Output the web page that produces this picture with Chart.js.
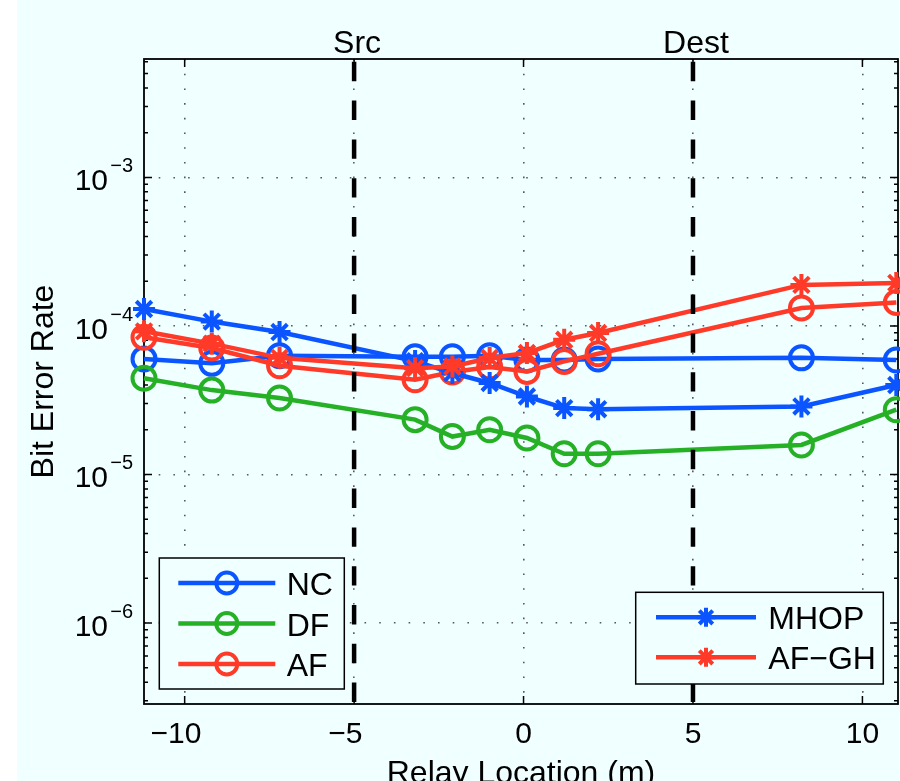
<!DOCTYPE html>
<html>
<head>
<meta charset="utf-8">
<title>Bit Error Rate vs Relay Location</title>
<script src="https://cdn.jsdelivr.net/npm/chart.js@4.4.1/dist/chart.umd.min.js"></script>
<style>
  html, body { margin: 0; padding: 0; background: #f0ffff; overflow: hidden; }
  #wrap {
    position: relative; width: 900px; height: 781px;
    background: linear-gradient(to right, #ffffff 0, #ffffff 17px, #f0ffff 17px);
  }
  #berChart { display: block; }
</style>
</head>
<body>
<div id="wrap"><canvas id="berChart" width="900" height="781"></canvas></div>
<script>
// relay positions (m) and BER per scheme
const relayPos = [-11.2, -9.2, -7.2, -3.2, -2.1, -1.0, 0.1, 1.2, 2.2, 8.2, 11.0];
const berNC   = [6.0e-5, 5.6e-5, 6.3e-5, 6.2e-5, 6.2e-5, 6.3e-5, 5.9e-5, 5.9e-5, 6.0e-5, 6.1e-5, 5.9e-5];
const berDF   = [4.45e-5, 3.7e-5, 3.27e-5, 2.34e-5, 1.8e-5, 2.0e-5, 1.76e-5, 1.38e-5, 1.38e-5, 1.58e-5, 2.73e-5];
const berAF   = [8.4e-5, 7.1e-5, 5.4e-5, 4.34e-5, 4.9e-5, 5.3e-5, 4.94e-5, 5.77e-5, 6.5e-5, 1.32e-4, 1.44e-4];
const berMHOP = [1.30e-4, 1.07e-4, 9.1e-5, 5.8e-5, 4.82e-5, 4.13e-5, 3.35e-5, 2.8e-5, 2.75e-5, 2.87e-5, 4.0e-5];
const berAFGH = [9.2e-5, 7.6e-5, 6.1e-5, 5.2e-5, 5.33e-5, 6.08e-5, 6.57e-5, 8.07e-5, 8.96e-5, 1.89e-4, 1.95e-4];

// node markers
const nodePos = [-5, 5];
const nodeNames = ['Src', 'Dest'];

const xTicks = [-10, -5, 0, 5, 10];
const xMin = -11.2, xMax = 11.05;
const yMin = 2.85e-7, yMax = 6.27e-3;

const BLUE = 'rgb(10,85,255)';
const GREEN = 'rgb(38,176,38)';
const RED = 'rgb(255,58,40)';
const BG = '#f0ffff';
const FONT = '"Liberation Sans", Arial, Helvetica, sans-serif';

const pts = arr => relayPos.map((x, i) => ({ x: x, y: arr[i] }));
const isDecade = v => Math.abs(Math.log10(v) - Math.round(Math.log10(v))) < 1e-9;

function series(label, arr, color, style, order) {
    return {
        label: label,
        data: pts(arr),
        borderColor: color,
        borderWidth: 4.5,
        pointStyle: style,
        pointRadius: style === 'circle' ? 11.5 : 11,
        pointBorderWidth: 4,
        pointBorderColor: color,
        pointBackgroundColor: 'rgba(0,0,0,0)',
        tension: 0,
        clip: false,
        order: order
    };
}

const datasets = [
    series('NC', berNC, BLUE, 'circle', 5),
    series('DF', berDF, GREEN, 'circle', 4),
    series('AF', berAF, RED, 'circle', 3),
    series('MHOP', berMHOP, BLUE, 'star', 2),
    series('AF\u2212GH', berAFGH, RED, 'star', 1)
];

// dashed vertical lines at source / destination
nodePos.forEach(p => {
    datasets.push({
        label: '',
        data: [{ x: p, y: yMax }, { x: p, y: yMin }],
        borderColor: '#000',
        borderWidth: 4.5,
        borderDash: [19.4, 19.4],
        borderDashOffset: 36,
        pointRadius: 0,
        clip: false,
        order: 0
    });
});

function drawMarker(ctx, style, x, y, r) {
    ctx.beginPath();
    if (style === 'circle') {
        ctx.arc(x, y, r, 0, Math.PI * 2);
    } else {
        const d = r * Math.SQRT1_2;
        ctx.moveTo(x - r, y); ctx.lineTo(x + r, y);
        ctx.moveTo(x, y - r); ctx.lineTo(x, y + r);
        ctx.moveTo(x - d, y - d); ctx.lineTo(x + d, y + d);
        ctx.moveTo(x - d, y + d); ctx.lineTo(x + d, y - d);
    }
    ctx.stroke();
}

function drawLegend(chart, idx, left, top, w, h, rowGap, lineX0, lineX1, textX) {
    const ctx = chart.ctx;
    ctx.save();
    ctx.fillStyle = BG;
    ctx.fillRect(left, top, w, h);
    ctx.strokeStyle = '#000';
    ctx.lineWidth = 1.5;
    ctx.strokeRect(left, top, w, h);
    idx.forEach((k, i) => {
        const ds = chart.data.datasets[k];
        const ry = top + 25 + i * rowGap;
        ctx.strokeStyle = ds.borderColor;
        ctx.lineWidth = 4.5;
        ctx.beginPath();
        ctx.moveTo(left + lineX0, ry); ctx.lineTo(left + lineX1, ry);
        ctx.stroke();
        ctx.lineWidth = 4;
        drawMarker(ctx, ds.pointStyle, left + (lineX0 + lineX1) / 2, ry, ds.pointStyle === 'circle' ? 10.5 : 9.5);
        ctx.fillStyle = '#000';
        ctx.font = '32px ' + FONT;
        ctx.textAlign = 'left';
        ctx.textBaseline = 'alphabetic';
        ctx.fillText(ds.label, left + textX, ry + 12);
    });
    ctx.restore();
}

const framePlugin = {
    id: 'frame',
    beforeDatasetsDraw(chart) {
        const { ctx, chartArea: a, scales: { x, y } } = chart;
        ctx.save();
        ctx.strokeStyle = '#000';
        ctx.lineWidth = 1.8;
        ctx.strokeRect(a.left, a.top, a.right - a.left, a.bottom - a.top);
        ctx.lineWidth = 1.5;
        ctx.beginPath();
        x.ticks.forEach(t => {
            const px = x.getPixelForValue(t.value);
            ctx.moveTo(px, a.bottom); ctx.lineTo(px, a.bottom - 8);
            ctx.moveTo(px, a.top); ctx.lineTo(px, a.top + 8);
        });
        y.ticks.forEach(t => {
            const py = y.getPixelForValue(t.value);
            const len = isDecade(t.value) ? 8 : 4;
            ctx.moveTo(a.left, py); ctx.lineTo(a.left + len, py);
            ctx.moveTo(a.right, py); ctx.lineTo(a.right - len, py);
        });
        ctx.stroke();
        ctx.restore();
    },
    afterDraw(chart) {
        const { ctx, chartArea: a, scales: { x, y } } = chart;
        ctx.save();
        ctx.fillStyle = '#000';
        ctx.textBaseline = 'alphabetic';

        // x tick labels (minus sign hangs left of the digits)
        ctx.font = '30px ' + FONT;
        x.ticks.forEach(t => {
            const px = x.getPixelForValue(t.value);
            const digits = String(Math.abs(t.value));
            const w = ctx.measureText(digits).width;
            ctx.textAlign = 'center';
            ctx.fillText(digits, px, a.bottom + 39);
            if (t.value < 0) {
                ctx.textAlign = 'right';
                ctx.fillText('\u2212', px - w / 2, a.bottom + 39);
            }
        });

        // y tick labels 10^n
        y.ticks.filter(t => isDecade(t.value)).forEach(t => {
            const py = y.getPixelForValue(t.value);
            const e = Math.round(Math.log10(t.value));
            ctx.textAlign = 'right';
            ctx.font = '30px ' + FONT;
            ctx.fillText('10', a.left - 36, py + 13);
            ctx.font = '20px ' + FONT;
            ctx.fillText((e < 0 ? '\u2212' : '') + Math.abs(e), a.left - 11, py - 5);
        });

        // Src / Dest labels
        ctx.font = '32px ' + FONT;
        ctx.textAlign = 'center';
        nodePos.forEach((p, i) => {
            ctx.fillText(nodeNames[i], x.getPixelForValue(p) + 3, a.top - 6);
        });

        // axis titles
        ctx.fillText('Relay Location (m)', (a.left + a.right) / 2, a.bottom + 79);
        ctx.save();
        ctx.translate(53, (a.top + a.bottom) / 2);
        ctx.rotate(-Math.PI / 2);
        ctx.fillText('Bit Error Rate', 0, 0);
        ctx.restore();
        ctx.restore();

        // two legend boxes inside the axes
        drawLegend(chart, [0, 1, 2], a.left + 15.3, a.bottom - 146, 185, 131, 40.5, 19, 116, 127.4);
        drawLegend(chart, [3, 4], a.right - 262.3, a.bottom - 111.7, 247.6, 91.7, 40, 20.3, 120.3, 132.6);
    }
};

const ctx = document.getElementById('berChart').getContext('2d');
const berChart = new Chart(ctx, {
    type: 'line',
    data: { datasets: datasets },
    options: {
        responsive: false,
        animation: false,
        devicePixelRatio: 1,
        events: [],
        layout: {
            autoPadding: false,
            padding: { left: 144, top: 59, right: 2, bottom: 77 }
        },
        plugins: {
            legend: { display: false },
            tooltip: { enabled: false }
        },
        scales: {
            x: {
                type: 'linear',
                min: xMin,
                max: xMax,
                afterBuildTicks: ax => { ax.ticks = xTicks.map(v => ({ value: v })); },
                ticks: { display: false },
                grid: { color: 'rgba(60,60,60,0.85)', lineWidth: 1.6, drawTicks: false },
                border: { display: false, dash: [1.6, 13.1] }
            },
            y: {
                type: 'logarithmic',
                min: yMin,
                max: yMax,
                afterBuildTicks: ax => {
                    const t = [];
                    for (let e = Math.floor(Math.log10(yMin)); e <= Math.ceil(Math.log10(yMax)); e++) {
                        for (let m = 1; m <= 9; m++) {
                            const v = m * Math.pow(10, e);
                            if (v >= yMin && v <= yMax) t.push({ value: v });
                        }
                    }
                    ax.ticks = t;
                },
                ticks: { display: false },
                grid: {
                    color: c => (c.tick && isDecade(c.tick.value)) ? 'rgba(60,60,60,0.85)' : 'rgba(0,0,0,0)',
                    lineWidth: 1.6,
                    drawTicks: false
                },
                border: { display: false, dash: [1.6, 13.1] }
            }
        }
    },
    plugins: [framePlugin]
});
</script>
</body>
</html>
